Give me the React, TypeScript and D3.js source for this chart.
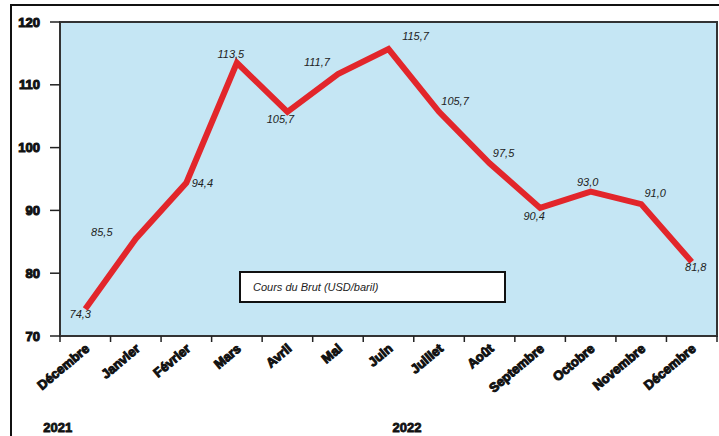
import React from "react";
import * as d3 from "d3";

// Monthly Brent crude price, Dec 2021 – Dec 2022
const months = [
  "Décembre", "Janvier", "Février", "Mars", "Avril", "Mai", "Juin",
  "Juillet", "Août", "Septembre", "Octobre", "Novembre", "Décembre",
];
const prices = [74.3, 85.5, 94.4, 113.5, 105.7, 111.7, 115.7, 105.7, 97.5, 90.4, 93.0, 91.0, 81.8];
const yTicks = [70, 80, 90, 100, 110, 120];
// year captions: category index they sit under, plus a pixel nudge
const years = [
  { label: "2021", at: 0, dx: -42 },
  { label: "2022", at: 6, dx: 4 },
];
// value-label nudges (dx, dy) so labels sit clear of the line
const labelOffsets: [number, number][] = [
  [-5, 5], [-34, -7], [16, 0], [-6, -9], [-7, 7], [-21, -12], [27, -13],
  [16, -11], [14, -10], [-6, 8], [-3, -10], [14, -11], [4, 5],
];
const legendText = "Cours du Brut (USD/baril)";

const W = 719;
const H = 436;
const plot = { left: 60, right: 717, top: 22, bottom: 336 };

export default function App() {
  const x = d3
    .scaleBand<number>()
    .domain(d3.range(months.length))
    .range([plot.left, plot.right])
    .paddingInner(0)
    .paddingOuter(0);
  const cx = (i: number) => (x(i) as number) + x.bandwidth() / 2;
  const y = d3.scaleLinear().domain([70, 120]).range([plot.bottom, plot.top]);

  const line = d3
    .line<number>()
    .x((_, i) => cx(i))
    .y((d) => y(d));

  const fmt = (v: number) => v.toFixed(1).replace(".", ",");
  const font = "'Liberation Sans', Arial, sans-serif";

  return (
    <svg
      width={W}
      height={H}
      style={{ position: "absolute", left: 0, top: 0, background: "#fff" }}
    >
      {/* outer frame */}
      <rect x={11} y={5} width={W + 20} height={H + 20} fill="none" stroke="#111" strokeWidth={2} />

      {/* plot area */}
      <rect
        x={plot.left}
        y={plot.top}
        width={plot.right - plot.left}
        height={plot.bottom - plot.top}
        fill="#c5e6f4"
        stroke="#333"
        strokeWidth={2}
      />

      {/* y axis */}
      {yTicks.map((t) => (
        <g key={t}>
          <line x1={plot.left - 10} x2={plot.left} y1={y(t)} y2={y(t)} stroke="#222" strokeWidth={1.5} />
          <text
            x={plot.left - 20}
            y={y(t)}
            textAnchor="end"
            dominantBaseline="central"
            fontFamily={font}
            fontWeight="bold"
            fontSize={13}
            fill="#111"
            stroke="#111"
            strokeWidth={1}
          >
            {t}
          </text>
        </g>
      ))}

      {/* x ticks at category boundaries */}
      {d3.range(months.length + 1).map((i) => {
        const xx = plot.left + i * x.bandwidth();
        return <line key={i} x1={xx} x2={xx} y1={plot.bottom} y2={plot.bottom + 6} stroke="#222" strokeWidth={1.5} />;
      })}

      {/* month labels */}
      {months.map((m, i) => (
        <text
          key={i}
          transform={`translate(${cx(i) + 5},${plot.bottom + 14}) rotate(-40)`}
          textAnchor="end"
          fontFamily={font}
          fontWeight="bold"
          fontSize={13}
          fill="#111"
          stroke="#111"
          strokeWidth={1}
        >
          {m}
        </text>
      ))}

      {/* years */}
      {years.map((yr) => (
        <text
          key={yr.label}
          x={cx(yr.at) + yr.dx}
          y={432}
          fontFamily={font}
          fontWeight="bold"
          fontSize={13}
          fill="#111"
          stroke="#111"
          strokeWidth={0.8}
        >
          {yr.label}
        </text>
      ))}

      {/* price line */}
      <path
        d={line(prices) ?? ""}
        fill="none"
        stroke="#e2262b"
        strokeWidth={6}
        strokeLinejoin="miter"
      />

      {/* value labels */}
      {prices.map((v, i) => (
        <text
          key={i}
          x={cx(i) + labelOffsets[i][0]}
          y={y(v) + labelOffsets[i][1]}
          textAnchor="middle"
          dominantBaseline="central"
          fontFamily={font}
          fontStyle="italic"
          fontSize={11}
          fill="#222"
        >
          {fmt(v)}
        </text>
      ))}

      {/* legend */}
      <rect x={240} y={272} width={265} height={30} fill="#fff" stroke="#111" strokeWidth={2} />
      <text
        x={253}
        y={287}
        dominantBaseline="central"
        fontFamily={font}
        fontStyle="italic"
        fontSize={11}
        fill="#222"
      >
        {legendText}
      </text>
    </svg>
  );
}
